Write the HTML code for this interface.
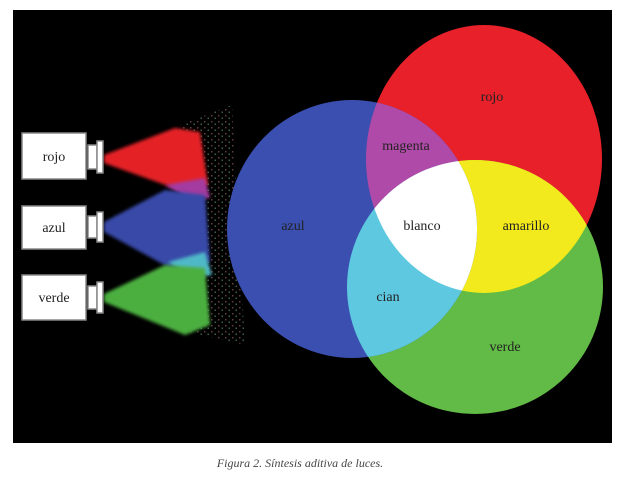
<!DOCTYPE html>
<html><head><style>
body{margin:0;background:#fff;width:624px;height:480px;overflow:hidden}
svg{display:block}
text{font-family:"Liberation Serif",serif;font-size:14px;fill:#222}
</style></head><body>
<svg width="624" height="480" viewBox="0 0 624 480">
<defs>
<clipPath id="cb"><ellipse cx="352" cy="229" rx="125" ry="129"/></clipPath>
<clipPath id="cr"><ellipse cx="484" cy="159" rx="118" ry="134"/></clipPath>
<clipPath id="cg"><ellipse cx="475" cy="287" rx="128" ry="127"/></clipPath>
<filter id="bl"><feGaussianBlur stdDeviation="1.5"/></filter>
<pattern id="dots" width="7" height="6" patternUnits="userSpaceOnUse">
<rect x="1" y="1" width="1.5" height="1.5" fill="#a77"/>
<rect x="4.5" y="3.5" width="1.5" height="1.5" fill="#7a8"/>
</pattern>
</defs>
<rect x="13" y="10" width="599" height="433" fill="#000"/>
<!-- scatter -->
<polygon points="180,125 232,105 245,345 180,330" fill="url(#dots)" opacity="0.55"/>
<!-- cones -->
<polygon points="104,155 175,128 200,132 208,185 185,192 104,163" fill="#e42026" filter="url(#bl)"/>
<polygon points="165,185 205,178 210,198 190,200" fill="#a43aa0" filter="url(#bl)"/>
<polygon points="104,222 165,190 205,195 210,262 170,268 104,232" fill="#3848a8" filter="url(#bl)"/>
<polygon points="168,262 205,252 212,275 190,278" fill="#50b8c8" filter="url(#bl)"/>
<polygon points="104,294 165,265 205,268 210,325 185,335 104,302" fill="#4caf40" filter="url(#bl)"/>
<!-- projectors -->
<g fill="#fff" stroke="#888" stroke-width="1.5">
<rect x="22" y="133" width="64" height="46"/>
<rect x="22" y="206" width="64" height="43"/>
<rect x="22" y="275" width="64" height="45"/>
<rect x="88" y="145" width="9" height="24"/>
<rect x="88" y="216" width="9" height="22"/>
<rect x="88" y="286" width="9" height="23"/>
<rect x="97" y="141" width="6" height="32"/>
<rect x="97" y="212" width="6" height="30"/>
<rect x="97" y="282" width="6" height="31"/>
</g>
<text x="54" y="161" text-anchor="middle">rojo</text>
<text x="54" y="232" text-anchor="middle">azul</text>
<text x="54" y="302" text-anchor="middle">verde</text>
<!-- circles -->
<ellipse cx="484" cy="159" rx="118" ry="134" fill="#e8202a"/>
<ellipse cx="475" cy="287" rx="128" ry="127" fill="#62bb46"/>
<ellipse cx="352" cy="229" rx="125" ry="129" fill="#3a4fb0"/>
<g clip-path="url(#cr)"><ellipse cx="475" cy="287" rx="128" ry="127" fill="#f2ea1c"/></g>
<g clip-path="url(#cb)">
<ellipse cx="484" cy="159" rx="118" ry="134" fill="#b04aa8"/>
<ellipse cx="475" cy="287" rx="128" ry="127" fill="#5ec8e0"/>
<g clip-path="url(#cr)"><ellipse cx="475" cy="287" rx="128" ry="127" fill="#fff"/></g>
</g>
<text x="492" y="101" text-anchor="middle">rojo</text>
<text x="406" y="150" text-anchor="middle">magenta</text>
<text x="293" y="230" text-anchor="middle">azul</text>
<text x="422" y="230" text-anchor="middle">blanco</text>
<text x="526" y="230" text-anchor="middle">amarillo</text>
<text x="388" y="301" text-anchor="middle">cian</text>
<text x="505" y="351" text-anchor="middle">verde</text>
<text x="300" y="467" text-anchor="middle" style="font-style:italic;font-size:12px;fill:#444">Figura 2. Síntesis aditiva de luces.</text>
</svg>
</body></html>
